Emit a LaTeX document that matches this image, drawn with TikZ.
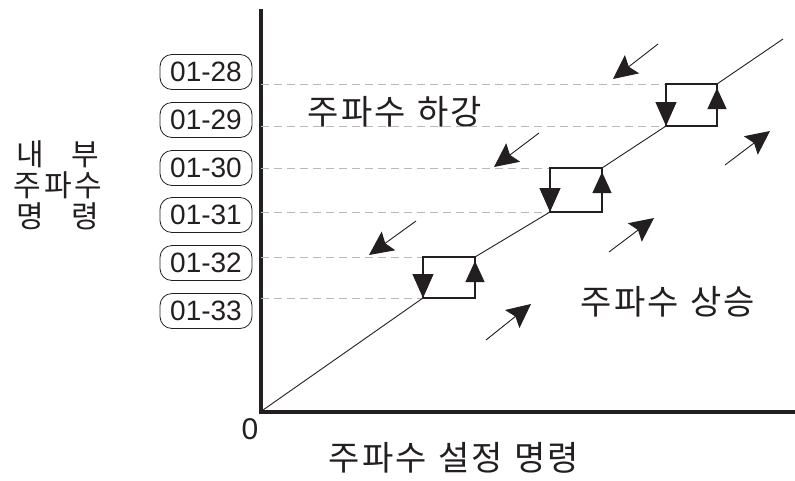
\documentclass[tikz,border=0pt]{standalone}
\usepackage{fontspec}
\setmainfont{Liberation Sans}
\newfontfamily\kor{Noto Sans CJK KR}[WordSpace=1.2, LetterSpace=6]
\newfontfamily\korwide{Noto Sans CJK KR}[LetterSpace=10]
\usetikzlibrary{arrows.meta}
\definecolor{ink}{RGB}{35,31,32}
\begin{document}
\begin{tikzpicture}[x=1pt, y=-1pt, ink,
        axis/.style={draw, line width=3.6pt},
        curve/.style={draw, line width=0.9pt},
        edge/.style={draw, line width=1.1pt},
        level/.style={draw, gray!55, line width=0.9pt, dash pattern=on 8pt off 5pt},
        tag/.style={rectangle, draw, rounded corners=12pt, line width=0.8pt, minimum width=92pt, minimum height=35pt, inner sep=0pt, font=\fontsize{28}{30}\selectfont},
        hopdown/.style={draw, line width=1.1pt, -{Triangle[length=24pt, width=21pt]}},
        hopup/.style={draw, line width=1.1pt, -{Triangle[length=21pt, width=19pt]}},
        trend/.style={draw, line width=0.9pt, -{Stealth[length=24pt, width=23pt, inset=4pt]}},
        kortext/.style={font=\kor\fontsize{34}{36}\selectfont}
    ]
        \useasboundingbox (0,0) rectangle (795,480);

        % axes
        \coordinate (o) at (261,412);
        \coordinate (ytop) at (261,9);
        \coordinate (xend) at (795,412);
        \draw[axis] (ytop) -- (o) -- (xend);
        \node[font=\fontsize{30}{32}\selectfont] (zero) at (250,429) {0};

        % hysteresis boxes
        \coordinate (b1tl) at (423,257); \coordinate (b1tr) at (475,257);
        \coordinate (b1bl) at (423,298); \coordinate (b1br) at (475,298);
        \coordinate (b2tl) at (550,168); \coordinate (b2tr) at (602,168);
        \coordinate (b2bl) at (550,212); \coordinate (b2br) at (602,212);
        \coordinate (b3tl) at (666,84);  \coordinate (b3tr) at (717,84);
        \coordinate (b3bl) at (666,126); \coordinate (b3br) at (717,126);
        \coordinate (top) at (783,39);

        % levels
        \draw[level] (261,84) -- (b3tl);
        \draw[level] (261,126) -- (b3bl);
        \draw[level] (261,168) -- (b2tl);
        \draw[level] (261,212) -- (b2bl);
        \draw[level] (261,257) -- (b1tl);
        \draw[level] (261,298) -- (b1bl);

        % diagonal
        \draw[curve] (263,410) -- (b1bl);
        \draw[curve] (b1tr) -- (b2bl);
        \draw[curve] (b2tr) -- (b3bl);
        \draw[curve] (b3tr) -- (top);

        \draw[edge] (b1tl) rectangle (b1br);
        \draw[hopdown] (b1tl) -- (b1bl);
        \draw[hopup] (b1br) -- (475,261);
        \draw[edge] (b2tl) rectangle (b2br);
        \draw[hopdown] (b2tl) -- (b2bl);
        \draw[hopup] (b2br) -- (602,172);
        \draw[edge] (b3tl) rectangle (b3br);
        \draw[hopdown] (b3tl) -- (b3bl);
        \draw[hopup] (b3br) -- (717,88);

        % falling / rising arrows
        \coordinate (f1s) at (658,44);  \coordinate (f1e) at (613,79);
        \coordinate (f2s) at (539,133); \coordinate (f2e) at (494,167);
        \coordinate (f3s) at (416,221); \coordinate (f3e) at (369,255);
        \coordinate (r1s) at (486,340); \coordinate (r1e) at (531,304);
        \coordinate (r2s) at (609,252); \coordinate (r2e) at (654,218);
        \coordinate (r3s) at (725,165); \coordinate (r3e) at (770,131);
        \draw[trend] (f1s) -- (f1e);
        \draw[trend] (f2s) -- (f2e);
        \draw[trend] (f3s) -- (f3e);
        \draw[trend] (r1s) -- (r1e);
        \draw[trend] (r2s) -- (r2e);
        \draw[trend] (r3s) -- (r3e);

        % parameter tags
        \node[tag] (p28) at (206,72) {01-28};
        \node[tag] (p29) at (206,120) {01-29};
        \node[tag] (p30) at (206,168) {01-30};
        \node[tag] (p31) at (206,215) {01-31};
        \node[tag] (p32) at (206,263) {01-32};
        \node[tag] (p33) at (206,311) {01-33};

        % texts
        \node[kortext] (down) at (395,112) {주파수 하강};
        \node[kortext] (up) at (668,302) {주파수 상승};
        \node[kortext] (setcmd) at (454,458) {주파수 설정 명령};
        \node[font=\korwide\fontsize{30}{31}\selectfont, align=center, inner sep=0pt] (intcmd) at (58,185)
            {내\hphantom{파}부\\주파수\\명\hphantom{파}령};
    \end{tikzpicture}
\end{document}
